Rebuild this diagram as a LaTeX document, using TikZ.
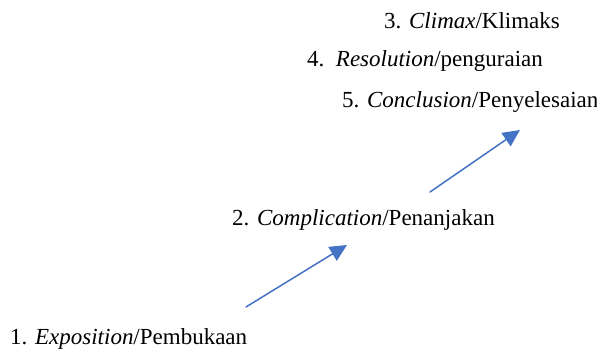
\documentclass[tikz,border=0pt]{standalone}
\usepackage{fontspec}
\setmainfont{Liberation Serif}
\usepackage{tkz-euclide}
\usetikzlibrary{arrows.meta}
\definecolor{arrowblue}{RGB}{68,114,196}

\begin{document}
\begin{tikzpicture}[x=1pt,y=1pt,
                    stage/.style={anchor=base west,inner sep=0pt,font=\fontsize{23}{27}\selectfont},
                    rise/.style={draw=arrowblue,line width=1.5pt,-{Triangle[length=17pt,width=16pt]}}]
                    \useasboundingbox (0,0) rectangle (597,352);
                    \tkzDefPoints{246/45/A,347/107/B,430/160/C,520/222/D}
                    \node[stage] (expo) at (10,7) {1. \textit{Exposition}/Pembukaan};
                    \node[stage] (compl) at (232,126) {2. \textit{Complication}/Penanjakan};
                    \node[stage] (clim) at (384,323) {3. \textit{Climax}/Klimaks};
                    \node[stage] (resol) at (307,285) {4.\ \ \textit{Resolution}/penguraian};
                    \node[stage] (concl) at (342,244) {5. \textit{Conclusion}/Penyelesaian};
                    \tkzDrawSegments[rise](A,B C,D)
                \end{tikzpicture}
\end{document}
